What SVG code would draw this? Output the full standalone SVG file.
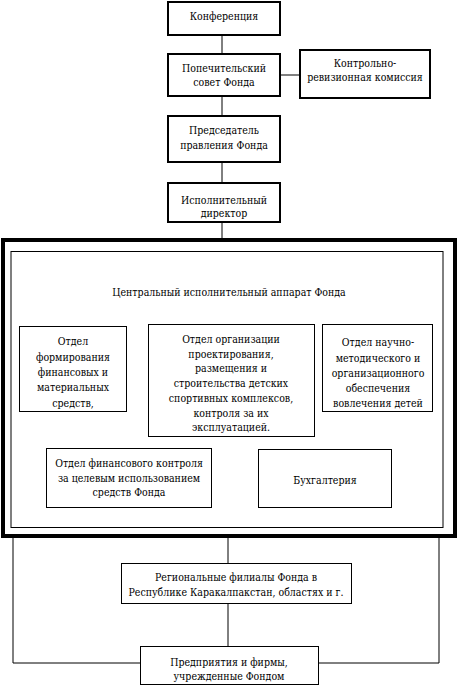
<svg xmlns="http://www.w3.org/2000/svg" width="459" height="686" viewBox="0 0 459 686" font-family="DejaVu Serif Condensed, DejaVu Serif, serif">
<style>
text{font-size:10.5px;fill:#000;text-anchor:middle}
.b2{fill:#fff;stroke:#000;stroke-width:2}
.b1{fill:#fff;stroke:#000;stroke-width:1}
.ln{stroke:#000;stroke-width:1;fill:none}
</style>
<rect width="459" height="686" fill="#fff"/>
<g id="connectors">
<line class="ln" x1="222" y1="35" x2="222" y2="54"/>
<line class="ln" x1="280" y1="75" x2="300" y2="75"/>
<line class="ln" x1="222" y1="96" x2="222" y2="116"/>
<line class="ln" x1="222" y1="162" x2="222" y2="183"/>
<line class="ln" x1="222" y1="222" x2="222" y2="240"/>
<line class="ln" x1="74" y1="313.5" x2="393" y2="313.5"/>
<line class="ln" x1="74" y1="313" x2="74" y2="326"/>
<line class="ln" x1="137" y1="313" x2="137" y2="448"/>
<line class="ln" x1="223" y1="313" x2="223" y2="324"/>
<line class="ln" x1="314" y1="313" x2="314" y2="449"/>
<line class="ln" x1="392" y1="313" x2="392" y2="324"/>
<line class="ln" x1="228" y1="538" x2="228" y2="563"/>
<line class="ln" x1="228" y1="603" x2="228" y2="646"/>
<polyline class="ln" points="13,538 13,663 140,663"/>
<polyline class="ln" points="439,538 439,663 318,663"/>
</g>
<g id="n-conf"><rect class="b2" x="168" y="2" width="112" height="33"/><text x="224" y="20">Конференция</text></g>
<g id="n-board"><rect class="b2" x="168" y="54" width="112" height="42"/><text x="224" y="72">Попечительский</text><text x="224" y="86">совет Фонда</text></g>
<g id="n-audit"><rect class="b2" x="300" y="50" width="130" height="48"/><text x="365" y="67">Контрольно-</text><text x="365" y="81">ревизионная комиссия</text></g>
<g id="n-chair"><rect class="b2" x="168" y="116" width="112" height="46"/><text x="224" y="134">Председатель</text><text x="224" y="149">правления Фонда</text></g>
<g id="n-exec"><rect class="b2" x="168" y="183" width="112" height="39"/><text x="224" y="204">Исполнительный</text><text x="224" y="217">директор</text></g>
<g id="n-central">
<rect fill="none" stroke="#000" stroke-width="4" x="3" y="240" width="452" height="296"/>
<rect class="b1" x="11" y="251.5" width="432" height="276"/>
<text x="229" y="296">Центральный исполнительный аппарат Фонда</text>
</g>
<g id="n-dept1"><rect class="b1" x="19.5" y="326.5" width="107" height="85"/>
<text x="73" y="345">Отдел</text><text x="73" y="361">формирования</text><text x="73" y="376">финансовых и</text><text x="73" y="391">материальных</text><text x="73" y="407">средств,</text></g>
<g id="n-dept2"><rect class="b1" x="148.5" y="324.5" width="166" height="112"/>
<text x="231" y="343">Отдел организации</text><text x="231" y="358">проектирования,</text><text x="231" y="372">размещения и</text><text x="231" y="387">строительства детских</text><text x="231" y="402">спортивных комплексов,</text><text x="231" y="417">контроля за их</text><text x="231" y="431">эксплуатацией.</text></g>
<g id="n-dept3"><rect class="b1" x="322.5" y="324.5" width="110" height="87"/>
<text x="378" y="346">Отдел научно-</text><text x="378" y="362">методического и</text><text x="378" y="377">организационного</text><text x="378" y="392">обеспечения</text><text x="378" y="407">вовлечения детей</text></g>
<g id="n-fin"><rect class="b1" x="46.5" y="448.5" width="165" height="59"/>
<text x="129" y="467">Отдел финансового контроля</text><text x="129" y="482">за целевым использованием</text><text x="129" y="496">средств Фонда</text></g>
<g id="n-acc"><rect class="b1" x="258.5" y="449.5" width="133" height="58"/>
<text x="325" y="484">Бухгалтерия</text></g>
<g id="n-reg"><rect class="b1" x="121.5" y="563.5" width="230" height="40"/>
<text x="236" y="581">Региональные филиалы Фонда в</text><text x="236" y="596">Республике Каракалпакстан, областях и г.</text></g>
<g id="n-ent"><rect class="b1" x="140.5" y="646.5" width="178" height="38"/>
<text x="229" y="666">Предприятия и фирмы,</text><text x="229" y="680">учрежденные Фондом</text></g>
</svg>
